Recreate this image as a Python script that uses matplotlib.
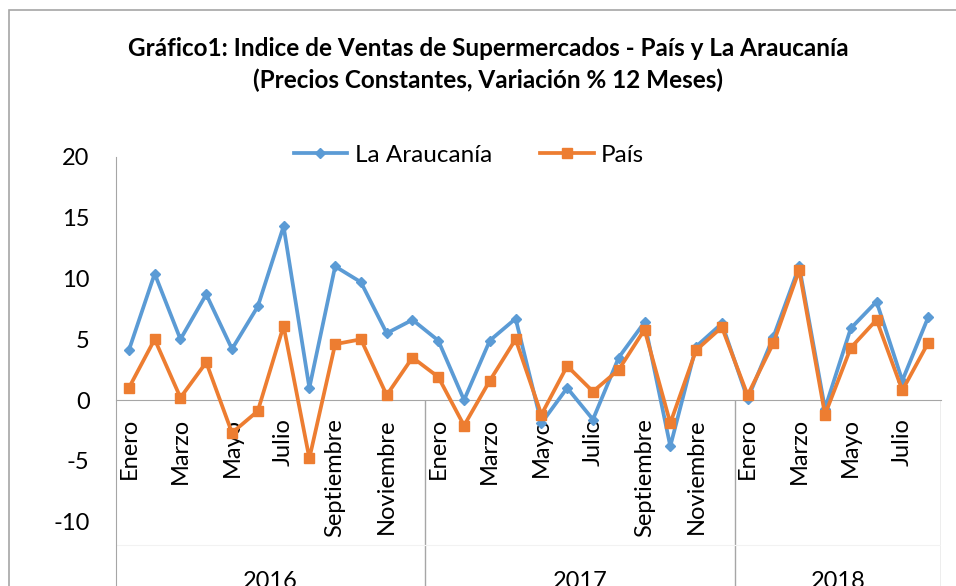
import matplotlib.pyplot as plt
import matplotlib.patches as patches
import numpy as np

plt.rcParams['font.family'] = ['Lato', 'DejaVu Sans']

meses = ['Enero', 'Febrero', 'Marzo', 'Abril', 'Mayo', 'Junio', 'Julio', 'Agosto',
         'Septiembre', 'Octubre', 'Noviembre', 'Diciembre']
years = ['2016', '2017', '2018']
months_per_year = [12, 12, 8]

araucania = [4.1, 10.4, 5.0, 8.7, 4.2, 7.7, 14.3, 1.0, 11.0, 9.7, 5.5, 6.6,
             4.9, 0.0, 4.9, 6.7, -1.9, 1.0, -1.6, 3.5, 6.4, -3.8, 4.4, 6.3,
             0.1, 5.2, 11.0, -0.7, 5.9, 8.1, 1.6, 6.8]
pais = [1.0, 5.0, 0.2, 3.1, -2.7, -0.9, 6.1, -4.8, 4.6, 5.0, 0.4, 3.5,
        1.9, -2.1, 1.6, 5.0, -1.2, 2.8, 0.7, 2.5, 5.8, -1.9, 4.1, 6.0,
        0.4, 4.7, 10.7, -1.2, 4.3, 6.6, 0.8, 4.7]

labels = []
for n in months_per_year:
    labels += meses[:n]
x = np.arange(len(labels))

W, H = 956, 586
fig = plt.figure(figsize=(W / 100, H / 100), dpi=100)
ax = fig.add_axes([116 / W, 0, (941 - 116) / W, 1 - 157 / H])

# chart border (cut off on right and bottom)
fig.patches.append(patches.Rectangle((9 / W, -0.1), 1.2, 1.1 - 10 / H, transform=fig.transFigure,
                                     fill=False, edgecolor='#A6A6A6', linewidth=1.2))

ax.plot(x, araucania, '-D', color='#5B9BD5', lw=2.7, markersize=5, label='La Araucanía', zorder=3)
ax.plot(x, pais, '-s', color='#ED7D31', lw=2.7, markersize=7, label='País', zorder=4)

ax.set_xlim(-0.5, len(x) - 0.5)
ax.set_ylim(-15.3, 20)
ax.set_yticks([-10, -5, 0, 5, 10, 15, 20])
ax.set_yticklabels(['-10', '-5', '0', '5', '10', '15', '20'])

ax.spines['top'].set_visible(False)
ax.spines['right'].set_visible(False)
ax.spines['left'].set_color('#A6A6A6')
ax.spines['bottom'].set_color('#A6A6A6')
ax.spines['bottom'].set_position(('data', 0))
ax.tick_params(axis='both', length=0, labelsize=17)
ax.tick_params(axis='y', pad=19)

show = [i for i in x if i % 2 == 0]
ax.set_xticks(show)
ax.set_xticklabels([labels[i] for i in show], rotation=90, va='top', ha='center')
ax.tick_params(axis='x', pad=13)

# year groups
bounds = np.cumsum([0] + months_per_year) - 0.5
ax.vlines(bounds[1:], -15.3, 0, color='#A6A6A6', lw=1)
ax.hlines(-11.9, -0.5, len(x) - 0.5, color='#F2F2F2', lw=0.8)
for i, yr in enumerate(years):
    ax.text((bounds[i] + bounds[i + 1]) / 2, -14.9, yr, ha='center', va='center', fontsize=17)

fig.text(488 / W, 1 - 48 / H, 'Gráfico1: Indice de Ventas de Supermercados - País y La Araucanía',
         ha='center', va='center', fontsize=17.5, fontweight='bold')
fig.text(488 / W, 1 - 80 / H, '(Precios Constantes, Variación % 12 Meses)',
         ha='center', va='center', fontsize=17.5, fontweight='bold')

fig.legend(loc='center', bbox_to_anchor=(469 / W, 1 - 155 / H), ncol=2, frameon=False,
           fontsize=17.5, handlelength=2.2, columnspacing=2.0, handletextpad=0.3)

fig.savefig('out.png', dpi=100)
